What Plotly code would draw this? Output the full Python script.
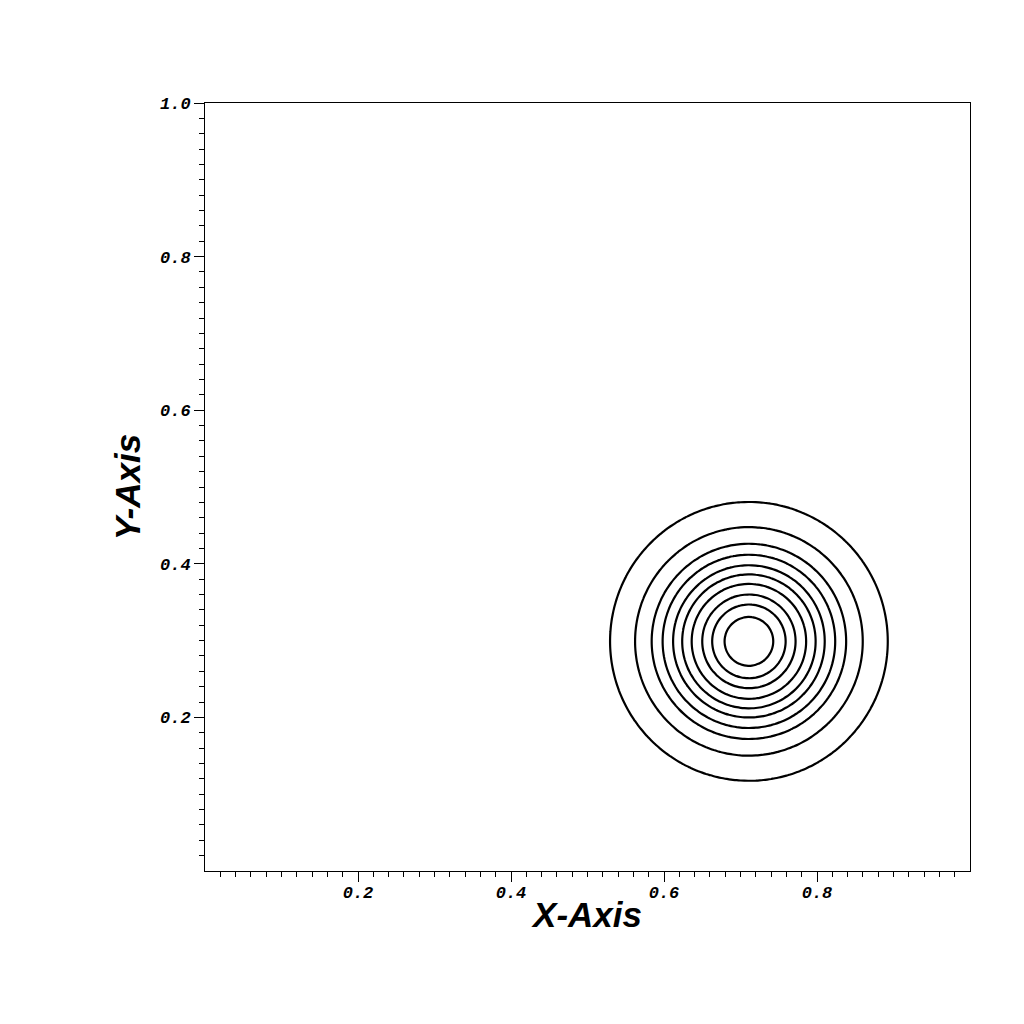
import numpy as np
import plotly.graph_objects as go

# contour rings (radius of each ring around the peak)
center_x = 0.711
center_y = 0.299
ring_radii = [0.1815, 0.1488, 0.1271, 0.1128, 0.0991, 0.0872, 0.0748, 0.0610, 0.0480, 0.0318]

x_ticks = [0.2, 0.4, 0.6, 0.8]
y_ticks = [0.2, 0.4, 0.6, 0.8, 1.0]
x_minor = [round(0.02 * i, 2) for i in range(1, 50)]
y_minor = [round(0.02 * i, 2) for i in range(1, 51)]

# grid over the unit square, z is the distance from the peak
xs = np.linspace(0, 1, 201)
ys = np.linspace(0, 1, 201)
gx, gy = np.meshgrid(xs, ys)
dist = np.sqrt((gx - center_x) ** 2 + (gy - center_y) ** 2)

fig = go.Figure()
for r in ring_radii:
    fig.add_trace(
        go.Contour(
            x=xs,
            y=ys,
            z=dist,
            autocontour=False,
            contours=dict(start=r, end=r, size=1, coloring="lines"),
            colorscale=[[0, "black"], [1, "black"]],
            line=dict(color="black", width=2.2),
            showscale=False,
            hoverinfo="skip",
        )
    )

tick_font = dict(family="Liberation Mono", size=17, color="black", weight="bold", style="italic")
title_font = dict(family="Liberation Sans", size=35, color="black", weight="bold", style="italic")

fig.update_layout(
    width=1024,
    height=1024,
    margin=dict(l=197, r=62, t=95, b=161),
    plot_bgcolor="white",
    paper_bgcolor="white",
    showlegend=False,
)
fig.update_xaxes(
    range=[0, 1],
    showgrid=False,
    zeroline=False,
    showline=True,
    linecolor="black",
    linewidth=1,
    mirror=True,
    ticks="outside",
    ticklen=10,
    tickcolor="black",
    tickmode="array",
    tickvals=x_ticks,
    ticktext=["0.2", "0.4", "0.6", "0.8"],
    tickfont=tick_font,
    ticklabelstandoff=-4,
    minor=dict(tickvals=x_minor, ticks="outside", ticklen=5, tickcolor="black", showgrid=False),
    title=dict(text="X-Axis", font=title_font, standoff=0),
)
fig.update_yaxes(
    range=[0, 1],
    showgrid=False,
    zeroline=False,
    showline=True,
    linecolor="black",
    linewidth=1,
    mirror=True,
    ticks="outside",
    ticklen=10,
    tickcolor="black",
    tickmode="array",
    tickvals=y_ticks,
    ticktext=["0.2", "0.4", "0.6", "0.8", "1.0"],
    tickfont=tick_font,
    minor=dict(tickvals=y_minor, ticks="outside", ticklen=5, tickcolor="black", showgrid=False),
    title=dict(text="Y-Axis", font=title_font, standoff=8),
)

fig.write_html("out.html")
